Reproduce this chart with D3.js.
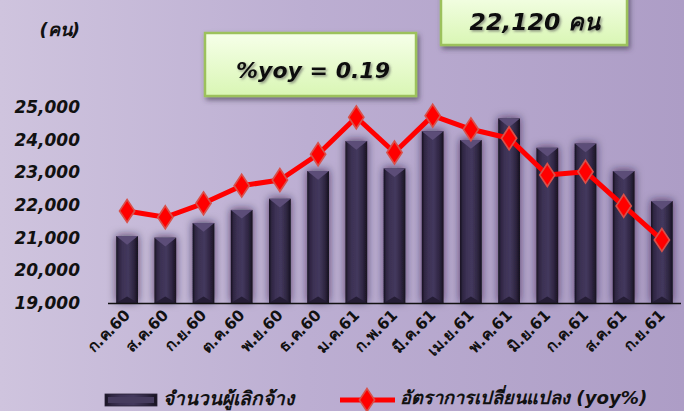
<!DOCTYPE html>
<html><head><meta charset="utf-8">
<script src="https://cdn.jsdelivr.net/npm/d3@7"></script>
<style>
html,body{margin:0;padding:0;overflow:hidden;}
svg{display:block;}
text{font-family:"DejaVu Sans","Noto Sans",sans-serif;}
</style></head>
<body>
<svg id="c" width="684" height="411"></svg>
<script>
const months = ["ก.ค.60","ส.ค.60","ก.ย.60","ต.ค.60","พ.ย.60","ธ.ค.60","ม.ค.61","ก.พ.61","มี.ค.61","เม.ย.61","พ.ค.61","มิ.ย.61","ก.ค.61","ส.ค.61","ก.ย.61"];
const layoffs = [21050,21000,21450,21850,22190,23040,23960,23120,24260,23990,24650,23750,23880,23040,22120];
const yoy = [3.04,2.42,3.79,5.52,6.08,8.61,12.24,8.78,12.40,11.06,10.18,6.57,6.90,3.53,0.19];
const yTicks = [19000,20000,21000,22000,23000,24000,25000];
const unitLabel = "(คน)";
const yoyNote = "%yoy = 0.19";
const lastNote = "22,120 คน";
const legendBar = "จำนวนผู้เลิกจ้าง";
const legendLine = "อัตราการเปลี่ยนแปลง (yoy%)";

const svg = d3.select("#c");
const W = 684, H = 411;
const defs = svg.append("defs");

const bg = defs.append("linearGradient").attr("id","bg").attr("x1","0").attr("x2","1").attr("y1","0").attr("y2","0");
bg.append("stop").attr("offset","0%").attr("stop-color","#cfc4de");
bg.append("stop").attr("offset","45%").attr("stop-color","#bcaed2");
bg.append("stop").attr("offset","100%").attr("stop-color","#ad9dc6");
svg.append("rect").attr("width",W).attr("height",H).attr("fill","url(#bg)");

const bg2 = defs.append("linearGradient").attr("id","barg").attr("x1","0").attr("x2","1").attr("y1","0").attr("y2","0");
[["0%","#16111f"],["12%","#2f2642"],["30%","#3d3255"],["55%","#43385d"],["80%","#2f2642"],["100%","#17121f"]].forEach(s=>bg2.append("stop").attr("offset",s[0]).attr("stop-color",s[1]));

const bxg = defs.append("linearGradient").attr("id","boxg").attr("x1","0").attr("x2","0").attr("y1","0").attr("y2","1");
bxg.append("stop").attr("offset","0%").attr("stop-color","#f6ffe9");
bxg.append("stop").attr("offset","100%").attr("stop-color","#d9f6b4");

const sh = defs.append("filter").attr("id","sh").attr("x","-60%").attr("y","-50%").attr("width","220%").attr("height","200%");
sh.append("feDropShadow").attr("dx",0).attr("dy",-1).attr("stdDeviation",4.5).attr("flood-color","#1e1530").attr("flood-opacity",0.65);
const sh2 = defs.append("filter").attr("id","sh2").attr("x","-20%").attr("y","-30%").attr("width","140%").attr("height","170%");
sh2.append("feDropShadow").attr("dx",2).attr("dy",3).attr("stdDeviation",2.5).attr("flood-color","#3a3048").attr("flood-opacity",0.6);
const ts = defs.append("filter").attr("id","ts").attr("x","-10%").attr("y","-20%").attr("width","120%").attr("height","150%");
ts.append("feDropShadow").attr("dx",1.5).attr("dy",1.5).attr("stdDeviation",0.8).attr("flood-color","#555").attr("flood-opacity",0.6);

const x = d3.scaleBand().domain(months).range([108,681]).paddingInner(0.43).paddingOuter(0.215);
const y = d3.scaleLinear().domain([19000,25000]).range([303,107]);
const y2 = d3.scaleLinear().domain([-6,13.25]).range([303,107]);

// y tick labels
svg.append("g").selectAll("text").data(yTicks).join("text")
  .attr("x",80).attr("y",d=>y(d)).attr("dy","0.35em").attr("text-anchor","end")
  .attr("font-size",17).attr("font-weight","bold").attr("font-style","italic").attr("fill","#111")
  .text(d=>d3.format(",")(d));

svg.append("text").attr("x",80).attr("y",30).attr("dy","0.35em").attr("text-anchor","end")
  .attr("font-size",18).attr("font-weight","bold").attr("font-style","italic").attr("fill","#111").text(unitLabel);

// bars
const bw = x.bandwidth();
const bars = svg.append("g").selectAll("g").data(months).join("g");
bars.append("rect").attr("x",d=>x(d)).attr("y",(d,i)=>y(layoffs[i])).attr("width",bw)
  .attr("height",(d,i)=>303-y(layoffs[i])).attr("fill","url(#barg)").attr("filter","url(#sh)");
bars.append("path").attr("d",(d,i)=>{const x0=x(d),t=y(layoffs[i]);return `M${x0},${t}L${x0+bw},${t}L${x0+bw/2},${t+bw*0.4}Z`;})
  .attr("fill","#5c4d78");
bars.append("path").attr("d",(d,i)=>{const x0=x(d);return `M${x0},303L${x0+bw},303L${x0+bw/2},${303-bw*0.3}Z`;})
  .attr("fill","#251d35");

// axis line
svg.append("line").attr("x1",108).attr("x2",681).attr("y1",303.5).attr("y2",303.5).attr("stroke","#111").attr("stroke-width",1.5);

// x labels
svg.append("g").selectAll("text").data(months).join("text")
  .attr("transform",d=>`translate(${x(d)+bw/2+4},${316}) rotate(-45)`)
  .attr("text-anchor","end").attr("font-size",15.5).attr("font-weight","bold").attr("fill","#111")
  .text(d=>d);

// line
const line = d3.line().x((d,i)=>x(months[i])+bw/2).y(d=>y2(d));
svg.append("path").datum(yoy).attr("d",line).attr("fill","none").attr("stroke","#ff0000").attr("stroke-width",5).attr("stroke-linejoin","round");
const sym = d3.symbol().type(d3.symbolDiamond).size(150);
svg.append("g").selectAll("path").data(yoy).join("path")
  .attr("transform",(d,i)=>`translate(${x(months[i])+bw/2},${y2(d)}) scale(1.15,1)`)
  .attr("d",sym).attr("fill","#ff0000").attr("stroke","#d8504a").attr("stroke-width",1.5);

// annotation boxes
function box(x0,y0,w,h,txt,tx,ty,fs){
  svg.append("rect").attr("x",x0).attr("y",y0).attr("width",w).attr("height",h)
    .attr("fill","url(#boxg)").attr("stroke","#9cc15c").attr("stroke-width",2.5).attr("filter","url(#sh2)");
  svg.append("text").attr("x",tx).attr("y",ty).attr("dy","0.35em").attr("text-anchor","middle")
    .attr("font-size",fs).attr("font-weight","bold").attr("font-style","italic").attr("fill","#111").attr("filter","url(#ts)").text(txt);
}
box(205,33,211,63,yoyNote,313,70,22);
box(441,-10,186,55,lastNote,535,22,23.5);

// legend
const lg = svg.append("g");
lg.append("rect").attr("x",105).attr("y",394).attr("width",52).attr("height",12).attr("fill","url(#barg)").attr("stroke","#2a2238").attr("stroke-width",0.8);
lg.append("rect").attr("x",108).attr("y",397).attr("width",46).attr("height",6).attr("fill","#463b5e");
lg.append("text").attr("x",163).attr("y",398).attr("dy","0.35em").attr("font-size",19).attr("font-style","italic").attr("font-weight",600).attr("fill","#111").text(legendBar);
lg.append("line").attr("x1",340).attr("x2",395).attr("y1",400).attr("y2",400).attr("stroke","#ff0000").attr("stroke-width",5);
lg.append("path").attr("transform","translate(367,400) scale(1.15,1)").attr("d",sym).attr("fill","#ff0000").attr("stroke","#d8504a").attr("stroke-width",1.5);
lg.append("text").attr("x",400).attr("y",398).attr("dy","0.35em").attr("font-size",18.2).attr("font-style","italic").attr("font-weight",600).attr("fill","#111").text(legendLine);
</script>
</body></html>
